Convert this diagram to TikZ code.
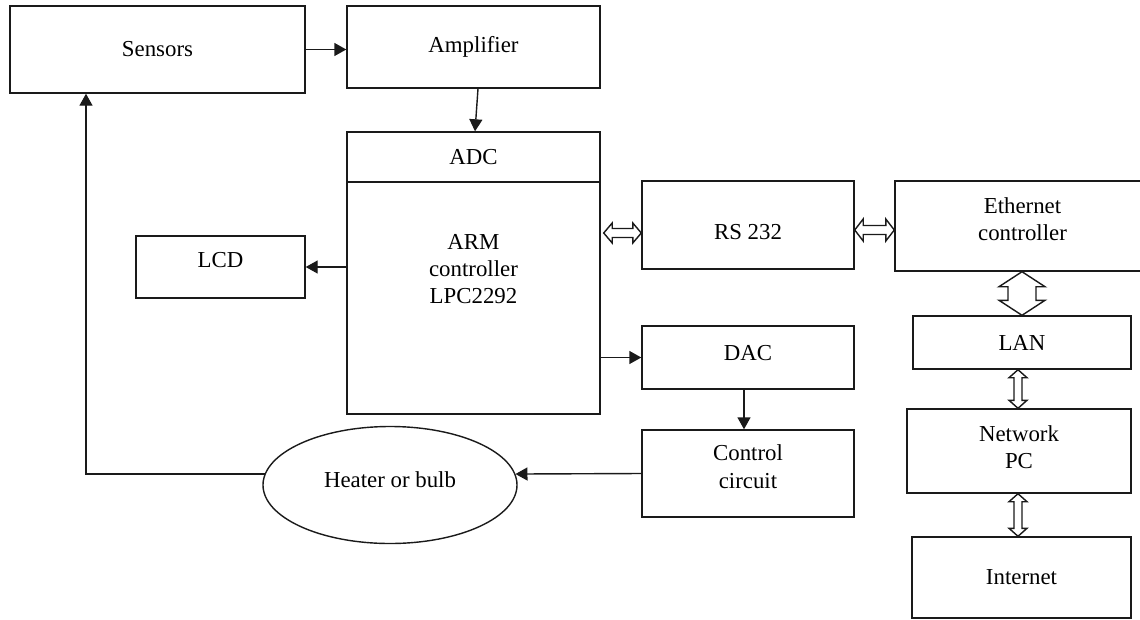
\documentclass[tikz,border=0pt]{standalone}
\usepackage{fontspec}
\setmainfont{Liberation Serif}
\usetikzlibrary{arrows.meta, positioning, calc, shapes.geometric}
\definecolor{inkblack}{HTML}{1A1A1A}

\tikzset{
  block/.style={draw=inkblack, line width=0.8pt, align=center, font=\fontsize{13}{15.5}\selectfont},
  flow/.style={draw=inkblack, line width=0.8pt, -{Triangle[length=2.4mm, width=2.6mm]}},
  % hollow two-way arrow: head length / head half width / shaft half width
  hollow/.style n args={3}{draw=inkblack, fill=white, line width=0.8pt, line join=miter,
    to path={(\tikztostart)
      -- ($(\tikztostart)!#1!(\tikztotarget)!#2!90:(\tikztotarget)$)
      -- ($(\tikztostart)!#1!(\tikztotarget)!#3!90:(\tikztotarget)$)
      -- ($(\tikztotarget)!#1!(\tikztostart)!#3!-90:(\tikztostart)$)
      -- ($(\tikztotarget)!#1!(\tikztostart)!#2!-90:(\tikztostart)$)
      -- (\tikztotarget)
      -- ($(\tikztotarget)!#1!(\tikztostart)!#2!90:(\tikztostart)$)
      -- ($(\tikztotarget)!#1!(\tikztostart)!#3!90:(\tikztostart)$)
      -- ($(\tikztostart)!#1!(\tikztotarget)!#3!-90:(\tikztotarget)$)
      -- ($(\tikztostart)!#1!(\tikztotarget)!#2!-90:(\tikztotarget)$)
      -- cycle}}
}

\begin{document}
\begin{tikzpicture}

\useasboundingbox (0,0) rectangle (22.8,-12.38);

% Input side
\node[block, minimum width=5.9cm, minimum height=1.74cm] (sensors) at (3.15,-0.99) {Sensors};
\node[block, minimum width=5.06cm, minimum height=1.64cm] (amp) at (9.47,-0.94) {Amplifier};

% Controller
\node[block, minimum width=5.06cm, minimum height=1.0cm] (adc) at (9.47,-3.14) {ADC};
\node[block, minimum width=5.06cm, minimum height=4.64cm] (arm) at (9.47,-5.96) {};
\node[block, draw=none] (armtext) at (9.47,-5.38) {ARM\\controller\\LPC2292};
\node[block, minimum width=3.38cm, minimum height=1.24cm, text depth=0.28cm] (lcd) at (4.41,-5.34) {LCD};

% Output side
\node[block, minimum width=4.24cm, minimum height=1.76cm, text height=0.58cm] (rs) at (14.96,-4.5) {RS 232};
\node[block, minimum width=4.24cm, minimum height=1.26cm, text depth=0.2cm] (dac) at (14.96,-7.15) {DAC};
\node[block, minimum width=4.24cm, minimum height=1.74cm, text depth=0.28cm] (ctrl) at (14.96,-9.47) {Control\\circuit};
\node[block, ellipse, minimum width=5.08cm, minimum height=2.34cm, text depth=0.2cm] (heater) at (7.8,-9.7) {Heater or bulb};

% Network
\node[block, minimum width=5.1cm, minimum height=1.8cm, text depth=0.28cm] (eth) at (20.45,-4.52) {Ethernet\\controller};
\node[block, minimum width=4.36cm, minimum height=1.06cm] (lan) at (20.44,-6.85) {LAN};
\node[block, minimum width=4.48cm, minimum height=1.68cm, text depth=0.16cm] (npc) at (20.38,-9.02) {Network\\PC};
\node[block, minimum width=4.38cm, minimum height=1.62cm] (inet) at (20.43,-11.55) {Internet};

% Signal flow
\draw[flow] (sensors.east) -- (sensors.east -| amp.west);
\draw[flow] ([xshift=0.09cm]amp.south) -- ([xshift=0.03cm]adc.north);
\draw[flow] (lcd.east -| arm.west) -- (lcd.east);
\draw[flow] (arm.east |- dac.west) -- (dac.west);
\draw[flow] ([xshift=-0.08cm]dac.south) -- ([xshift=-0.08cm]ctrl.north);
\draw[flow] (ctrl.west) -- (heater.5);
\draw[flow] (heater.175) -| ([xshift=-1.43cm]sensors.south);

% Two-way links
\coordinate (rsin) at ([yshift=-1.6mm]rs.west);
\coordinate (armout) at ([xshift=0.06cm]rsin -| arm.east);
\coordinate (rsout) at ([yshift=-1mm]rs.east);
\coordinate (ethin) at (rsout -| eth.west);
\coordinate (lanin) at (lan.north);
\coordinate (ethout) at (lan.north |- eth.south);
\coordinate (lanout) at ([xshift=-0.08cm]lan.south);
\coordinate (npcin) at ([xshift=-0.02cm]npc.north);
\coordinate (npcout) at ([xshift=-0.02cm]npc.south);
\coordinate (inetin) at ([xshift=-0.07cm]inet.north);

\draw[hollow={0.17cm}{0.2cm}{0.09cm}] (armout) to (rsin);
\draw[hollow={0.17cm}{0.22cm}{0.09cm}] (rsout) to (ethin);
\draw[hollow={0.3cm}{0.46cm}{0.28cm}] (ethout) to (lanin);
\draw[hollow={0.16cm}{0.18cm}{0.08cm}] (lanout) to (npcin);
\draw[hollow={0.16cm}{0.18cm}{0.08cm}] (npcout) to (inetin);

\end{tikzpicture}
\end{document}
